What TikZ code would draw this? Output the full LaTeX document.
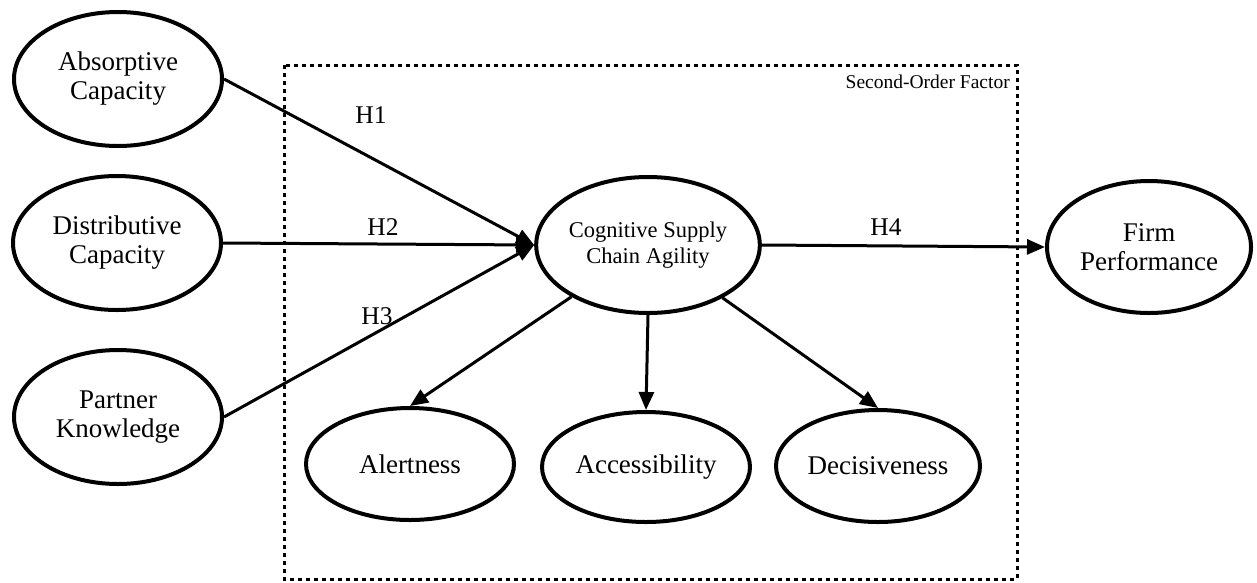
\documentclass[tikz,border=0pt]{standalone}
\usepackage{fontspec}
\setmainfont{Liberation Serif}
\usetikzlibrary{shapes.geometric,arrows.meta}

\begin{document}
\begin{tikzpicture}[x=1pt,y=-1pt,
  construct/.style={ellipse,draw,line width=4pt,inner sep=0pt,align=center,
    font=\fontsize{27}{29}\selectfont,minimum width=208pt,minimum height=134pt},
  dimension/.style={construct,minimum height=112pt},
  path/.style={line width=3pt,-{Triangle[length=18pt,width=15pt]}},
  hlabel/.style={font=\fontsize{25.5}{28}\selectfont,inner sep=0pt},
  factorbox/.style={line width=3pt,dash pattern=on 4pt off 4pt}]
\useasboundingbox (0,0) rectangle (1257,582);

% second-order factor frame
\draw[factorbox] (284,65) rectangle (1017,579);
\node[font=\fontsize{19.5}{22}\selectfont,inner sep=0pt,anchor=east] (sof) at (1010,82) {Second-Order Factor};

% antecedents
\node[construct] (abs) at (118,79) {Absorptive\\Capacity};
\node[construct] (dis) at (117,243) {Distributive\\Capacity};
\node[construct] (par) at (118,417) {Partner\\Knowledge};

% cognitive supply chain agility and its dimensions
\node[construct,font=\fontsize{22.5}{26}\selectfont,minimum height=136pt] (csca) at (648,245) {Cognitive Supply\\Chain Agility};
\node[dimension] (ale) at (410,464) {Alertness};
\node[dimension,minimum height=110pt] (acc) at (646,467) {Accessibility};
\node[dimension,minimum width=204pt] (dec) at (878,466) {Decisiveness};

% outcome
\node[construct,minimum width=204pt,minimum height=132pt] (firm) at (1149,247) {Firm\\Performance};

% hypothesised paths
\draw[path] (abs.east) -- (csca.west);
\draw[path] (dis.east) -- (csca.west);
\draw[path] (par.east) -- (csca.west);
\draw[path] (csca.east) -- (firm.west);

\draw[path] (csca) -- (ale.north);
\draw[path] (csca.south) -- (acc.north);
\draw[path] (csca) -- (dec.north);

\node[hlabel] (h1) at (371,115) {H1};
\node[hlabel] (h2) at (383,227) {H2};
\node[hlabel] (h3) at (377,316) {H3};
\node[hlabel] (h4) at (886,227) {H4};
\end{tikzpicture}
\end{document}
